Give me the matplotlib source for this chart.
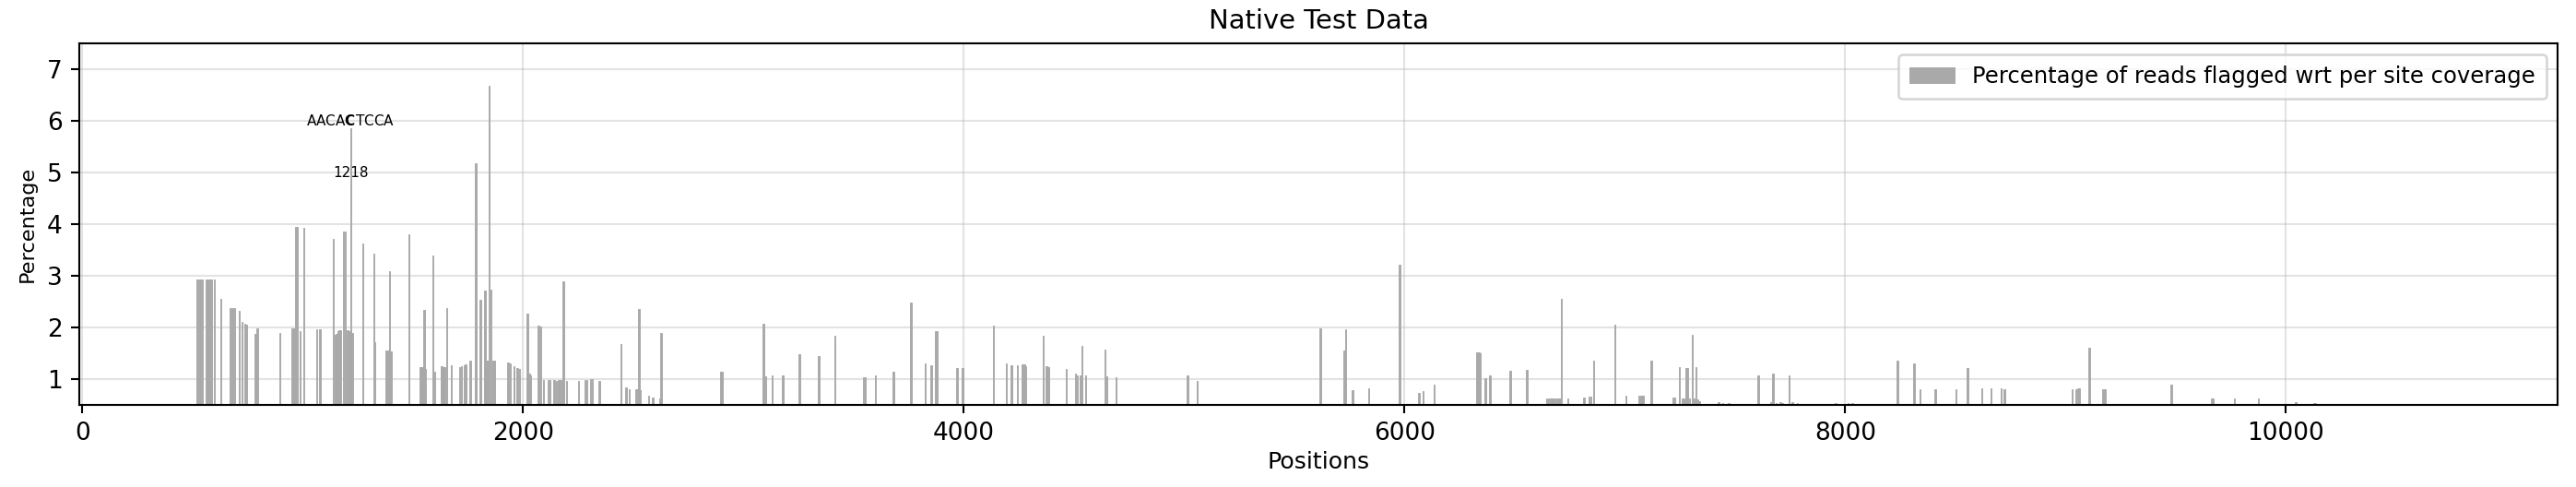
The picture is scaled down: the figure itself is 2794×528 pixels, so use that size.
import matplotlib
matplotlib.use("Agg")
import matplotlib.pyplot as plt

positions = [
    521, 534, 544, 564, 570, 576, 582, 587, 600,
    628,
    669, 681, 690, 712, 724, 736, 744,
    786, 794,
    895,
    952, 958, 964, 969, 975, 987, 1005,
    1063, 1078,
    1138, 1147, 1154, 1160, 1166, 1173, 1184, 1192, 1203, 1212, 1218, 1225,
    1272, 1322, 1328,
    1380, 1388, 1395, 1401,
    1483,
    1535, 1543, 1550, 1556,
    1591, 1599,
    1631, 1638, 1646, 1653, 1674,
    1713, 1720, 1732, 1739, 1760,
    1786, 1806, 1827, 1832, 1840, 1847, 1855, 1864, 1872,
    1931, 1941, 1960, 1973, 1984,
    2019, 2027, 2034, 2070, 2079,
    2092, 2114, 2122, 2141, 2152, 2161, 2169, 2176, 2182, 2197,
    2251, 2281, 2290, 2305, 2314, 2346,
    2445, 2468, 2481, 2510, 2518, 2525, 2531,
    2570, 2589, 2622, 2626,
    2895, 2903,
    3091, 3100, 3130, 3178,
    3254, 3342, 3414,
    3545, 3553, 3599, 3680, 3760,
    3825, 3853, 3870, 3878,
    3969, 3995,
    4134,
    4193, 4216, 4244, 4266, 4274, 4281,
    4361, 4376, 4384,
    4464,
    4507, 4515, 4530, 4537, 4552,
    4642, 4649, 4692,
    5015, 5060,
    5617,
    5727, 5734, 5764, 5837,
    5977,
    6065, 6085, 6134,
    6330, 6338, 6343, 6366, 6388,
    6480, 6556,
    6646, 6653, 6661, 6668, 6676, 6683, 6691, 6698, 6706, 6711, 6741,
    6814, 6837, 6846, 6859,
    6954, 7005,
    7064, 7074, 7083, 7117, 7122,
    7219, 7227, 7247, 7262, 7272, 7279, 7285, 7294, 7307, 7315, 7322, 7331, 7337,
    7425, 7444, 7472,
    7606,
    7664, 7673, 7686, 7705, 7714, 7746, 7761, 7783,
    7957, 8013, 8032,
    8163, 8185,
    8238, 8312, 8340, 8409, 8503, 8555,
    8620, 8663, 8708, 8723,
    9030, 9046, 9054, 9061, 9107, 9171, 9178,
    9480, 9664, 9671, 9767, 9876,
    10044, 10127, 10133, 10396,
]

percentages = [
    2.93, 2.93, 2.93, 2.93, 2.93, 2.93, 2.93, 2.93, 2.92,
    2.56,
    2.37, 2.38, 2.38, 2.33, 2.11, 2.08, 2.05,
    1.88, 1.99,
    1.89,
    1.98, 1.98, 1.98, 3.94, 3.94, 1.93, 3.92,
    1.97, 1.97,
    3.71, 1.85, 1.88, 1.93, 1.95, 1.95, 3.85, 3.85, 1.95, 1.92, 5.86, 1.89,
    3.62, 3.43, 1.71,
    1.56, 1.56, 3.09, 1.53,
    3.81,
    1.23, 1.23, 2.34, 1.20,
    3.40, 1.14,
    1.25, 1.24, 1.23, 2.37, 1.27,
    1.24, 1.25, 1.27, 1.29, 1.35,
    5.18, 2.53, 2.71, 1.35, 1.35, 6.67, 2.74, 1.35, 1.35,
    1.32, 1.31, 1.25, 1.21, 1.20,
    2.27, 1.10, 1.08, 2.04, 2.01,
    0.99, 0.99, 0.99, 0.98, 0.97, 0.98, 0.99, 0.99, 2.89, 0.97,
    0.97, 0.98, 0.98, 1.00, 1.00, 0.97,
    1.67, 0.84, 0.80, 0.80, 0.80, 2.36, 0.79,
    0.67, 0.64, 0.62, 1.89,
    1.15, 1.14,
    2.08, 1.06, 1.08, 1.08,
    1.49, 1.45, 1.84,
    1.03, 1.03, 1.08, 1.15, 2.49,
    1.30, 1.27, 1.92, 1.92,
    1.21, 1.21,
    2.04,
    1.30, 1.27, 1.27, 1.28, 1.28, 1.25,
    1.84, 1.25, 1.24,
    1.19,
    1.11, 1.08, 1.08, 1.65, 1.08,
    1.57, 1.06, 1.04,
    1.08, 0.97,
    1.98,
    1.55, 1.97, 0.79, 0.82,
    3.21,
    0.73, 0.76, 0.90,
    1.52, 1.52, 1.50, 1.02, 1.08,
    1.16, 1.18,
    0.62, 0.62, 0.62, 0.62, 0.62, 0.62, 0.62, 0.62, 0.62, 2.55, 0.62,
    0.64, 0.66, 0.66, 1.36,
    2.05, 0.68,
    0.67, 0.68, 0.68, 1.35, 1.35,
    0.64, 0.64, 1.24, 0.62, 0.62, 1.21, 1.21, 0.62, 1.86, 0.62, 1.24, 0.61, 0.58,
    0.55, 0.53, 0.53,
    1.08,
    0.55, 1.11, 0.54, 0.55, 0.54, 1.08, 0.55, 0.54,
    0.53, 0.53, 0.53,
    0.52, 0.52,
    1.36, 1.30, 0.80, 0.80, 0.80, 1.21,
    0.83, 0.83, 0.83, 0.80,
    0.80, 0.81, 0.83, 0.83, 1.61, 0.80, 0.80,
    0.89, 0.62, 0.62, 0.62, 0.62,
    0.55, 0.53, 0.53, 0.52,
]

annot_position = 1218
annot_motif = r"AACA$\mathbf{C}$TCCA"
annot_label = "1218"

title = "Native Test Data"
xlabel = "Positions"
ylabel = "Percentage"
legend_label = "Percentage of reads flagged wrt per site coverage"

DPI = 190
fig = plt.figure(figsize=(2794 / DPI, 528 / DPI), dpi=DPI)
ax = fig.add_axes([86 / 2794, 1 - 439 / 528, (2774 - 86) / 2794, (439 - 47) / 528])

ax.set_axisbelow(True)
ax.grid(True, color="#b0b0b0", alpha=0.35, linewidth=0.8)
ax.bar(positions, percentages, width=6, color="darkgray", edgecolor="darkgray",
       linewidth=0.35, label=legend_label)

ax.text(annot_position, 6.0, annot_motif, ha="center", va="center", fontsize=5.8)
ax.text(annot_position, 5.0, annot_label, ha="center", va="center", fontsize=5.8)

ax.set_xlim(-14, 11233)
ax.set_ylim(0.5, 7.5)
ax.set_xticks([0, 2000, 4000, 6000, 8000, 10000])
ax.set_yticks([1, 2, 3, 4, 5, 6, 7])
ax.set_title(title, fontsize=11)
ax.set_xlabel(xlabel, fontsize=9.5, labelpad=2)
ax.set_ylabel(ylabel, fontsize=8.5)
ax.tick_params(labelsize=10)
ax.legend(loc="upper right", fontsize=9.2, borderpad=0.5)

fig.savefig("out.png", dpi=DPI)
